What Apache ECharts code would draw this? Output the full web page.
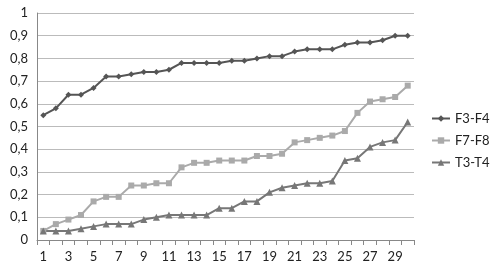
<!DOCTYPE html>
<html><head><meta charset="utf-8">
<script src="https://cdn.jsdelivr.net/npm/echarts@6/dist/echarts.min.js"></script>
<style>html,body{margin:0;padding:0;background:#fff}#c{width:493px;height:273px}</style>
</head><body><div id="c"></div>
<script>
const categories = Array.from({length:30},(_,i)=>String(i+1));
const f3f4 = [0.55,0.58,0.64,0.64,0.67,0.72,0.72,0.73,0.74,0.74,0.75,0.78,0.78,0.78,0.78,0.79,0.79,0.80,0.81,0.81,0.83,0.84,0.84,0.84,0.86,0.87,0.87,0.88,0.90,0.90];
const f7f8 = [0.04,0.07,0.09,0.11,0.17,0.19,0.19,0.24,0.24,0.25,0.25,0.32,0.34,0.34,0.35,0.35,0.35,0.37,0.37,0.38,0.43,0.44,0.45,0.46,0.48,0.56,0.61,0.62,0.63,0.68];
const t3t4 = [0.04,0.04,0.04,0.05,0.06,0.07,0.07,0.07,0.09,0.10,0.11,0.11,0.11,0.11,0.14,0.14,0.17,0.17,0.21,0.23,0.24,0.25,0.25,0.26,0.35,0.36,0.41,0.43,0.44,0.52];
const font = 'Lato, "DejaVu Sans", sans-serif';
const chart = echarts.init(document.getElementById('c'), null, {renderer:'canvas'});
chart.setOption({
  animation:false,
  textStyle:{fontFamily:font},
  grid:{left:37,right:79,top:13,bottom:33},
  legend:{
    orient:'vertical', left:426, top:107, itemGap:9, itemWidth:18, itemHeight:8,
    textStyle:{fontFamily:font,fontSize:13,color:'#222'},
    data:[{name:'F3-F4'},{name:'F7-F8'},{name:'T3-T4'}]
  },
  xAxis:{
    type:'category', data:categories, boundaryGap:true,
    axisLine:{lineStyle:{color:'#888'}},
    axisTick:{show:true, interval:0, length:5, lineStyle:{color:'#888'}},
    axisLabel:{interval:1, fontFamily:font, fontSize:13, color:'#222', margin:10}
  },
  yAxis:{
    type:'value', min:0, max:1, interval:0.1,
    axisLine:{show:true,lineStyle:{color:'#888'}},
    axisTick:{show:false},
    splitLine:{lineStyle:{color:'#bbb'}},
    axisLabel:{fontFamily:font, fontSize:13, color:'#222', margin:9,
      formatter:v=> v===0?'0':(v===1?'1':v.toFixed(1).replace('.',',')) }
  },
  series:[
    {name:'F3-F4',type:'line',data:f3f4,symbol:'diamond',symbolSize:6,
      lineStyle:{color:'#555',width:2},itemStyle:{color:'#555'}},
    {name:'F7-F8',type:'line',data:f7f8,symbol:'rect',symbolSize:6,
      lineStyle:{color:'#aaa',width:2},itemStyle:{color:'#aaa'}},
    {name:'T3-T4',type:'line',data:t3t4,symbol:'triangle',symbolSize:7,
      lineStyle:{color:'#777',width:2},itemStyle:{color:'#777'}}
  ]
});
</script></body></html>
